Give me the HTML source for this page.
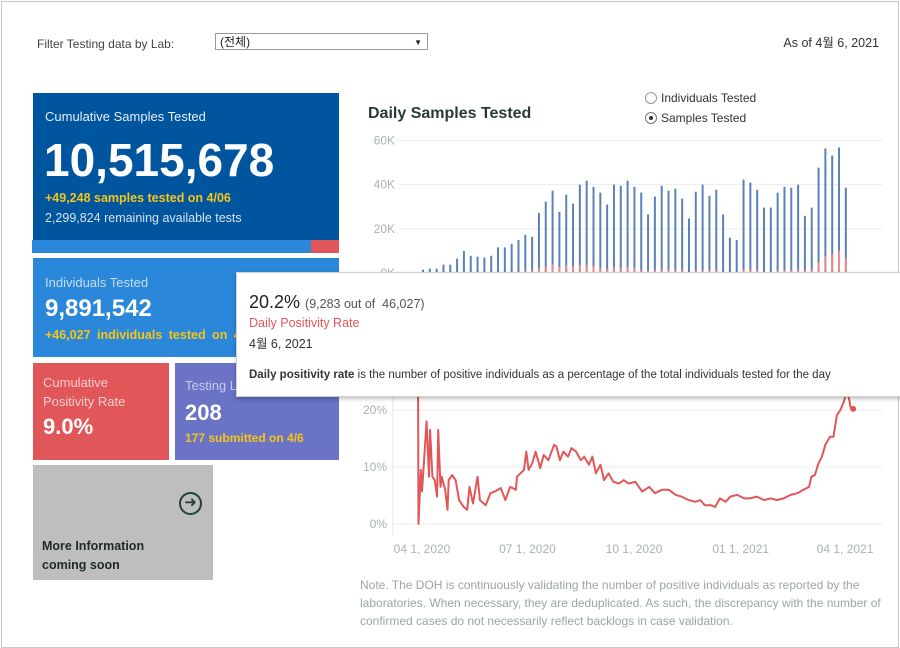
<!DOCTYPE html>
<html><head><meta charset="utf-8">
<style>
body{margin:0;width:900px;height:648px;overflow:hidden;background:#fff;font-family:"Liberation Sans","Noto Sans CJK KR",sans-serif;position:relative}
.abs{position:absolute}
.frame{left:1px;top:1px;width:896px;height:645px;border:1px solid #c8c8c8}
.card{position:absolute;color:#fff}
.t{position:absolute;white-space:nowrap}
</style></head><body>
<div class="abs frame"></div>
<div class="t" style="left:37px;top:37px;font-size:12px;color:#444">Filter Testing data by Lab:</div>
<div class="abs" style="left:215px;top:33px;height:17px;border:1px solid #999;font-size:12px;color:#222;line-height:17px;padding-left:4px;box-sizing:border-box;width:213px">(전체)<span style="position:absolute;right:5px;top:0;font-size:8px">▼</span></div>
<div class="t" style="right:21px;top:32px;font-size:12.5px;color:#333">As of 4월 6, 2021</div>

<div class="card" style="left:33px;top:93px;width:306px;height:148px;background:#00559f">
 <div class="t" style="left:12px;top:16px;font-size:13px;color:#e8eef6">Cumulative Samples Tested</div>
 <div class="t" style="left:11px;top:40px;font-size:46px;font-weight:bold">10,515,678</div>
 <div class="t" style="left:12px;top:98px;font-size:12.5px;font-weight:bold;color:#f5c518">+49,248 samples tested on 4/06</div>
 <div class="t" style="left:12px;top:118px;font-size:12.5px;color:#d8e2ee">2,299,824 remaining available tests</div>
</div>
<div class="abs" style="left:32px;top:240px;width:279px;height:13px;background:#2b87d9"></div>
<div class="abs" style="left:311px;top:240px;width:28px;height:13px;background:#e15759"></div>

<div class="card" style="left:33px;top:258px;width:306px;height:99px;background:#2b87d9">
 <div class="t" style="left:12px;top:17px;font-size:13px;color:#c7dcf2">Individuals Tested</div>
 <div class="t" style="left:12px;top:37px;font-size:24px;font-weight:bold">9,891,542</div>
 <div class="t" style="left:12px;top:70px;font-size:12.5px;font-weight:bold;color:#f5c518;word-spacing:3px">+46,027 individuals tested on 4/06</div>
</div>
<div class="card" style="left:33px;top:363px;width:136px;height:97px;background:#e15759">
 <div class="t" style="left:10px;top:10px;font-size:13px;line-height:19px;color:#f6cdcd;white-space:normal">Cumulative<br>Positivity Rate</div>
 <div class="t" style="left:10px;top:51px;font-size:22px;font-weight:bold">9.0%</div>
</div>
<div class="card" style="left:175px;top:363px;width:164px;height:97px;background:#6a73c6">
 <div class="t" style="left:10px;top:15px;font-size:13px;color:#c8cbec">Testing Labs</div>
 <div class="t" style="left:10px;top:37px;font-size:22px;font-weight:bold">208</div>
 <div class="t" style="left:10px;top:68px;font-size:12px;font-weight:bold;color:#f5c518">177 submitted on 4/6</div>
</div>
<div class="card" style="left:33px;top:465px;width:180px;height:115px;background:#bebebe;color:#223">
 <div class="abs" style="left:146px;top:27px;width:19px;height:19px;border:2px solid #22413a;border-radius:50%;font-size:15px;line-height:18px;text-align:center;color:#22413a">➜</div>
 <div class="t" style="left:9px;top:72px;font-size:12.5px;font-weight:bold;line-height:19px;color:#1f2a28">More Information<br>coming soon</div>
</div>

<div class="t" style="left:368px;top:105px;font-size:16px;font-weight:bold;color:#2a3a36">Daily Samples Tested</div>
<div class="abs" style="left:645px;top:92px;width:10px;height:10px;border:1px solid #999;border-radius:50%"></div>
<div class="t" style="left:661px;top:91px;font-size:12px;color:#333">Individuals Tested</div>
<div class="abs" style="left:645px;top:112px;width:10px;height:10px;border:1px solid #777;border-radius:50%"><div style="position:absolute;left:3px;top:3px;width:4px;height:4px;border-radius:50%;background:#333"></div></div>
<div class="t" style="left:661px;top:111px;font-size:12px;color:#333">Samples Tested</div>

<svg class="abs" style="left:0;top:0" width="900" height="648" id="charts">
<defs><clipPath id="lineclip"><rect x="380" y="280" width="510" height="260"/></clipPath></defs>
</svg>

<div class="abs" style="left:236px;top:272px;width:670px;height:123px;background:#fff;border:1px solid #d0d0d0;box-shadow:0 2px 4px rgba(0,0,0,0.25)">
 <div class="t" style="left:12px;top:19px;font-size:18px;color:#222">20.2% <span style="font-size:12.5px;color:#555">(9,283 out of &nbsp;46,027)</span></div>
 <div class="t" style="left:12px;top:43px;font-size:12.5px;color:#e15759">Daily Positivity Rate</div>
 <div class="t" style="left:12px;top:60px;font-size:12.5px;color:#333">4월 6, 2021</div>
 <div class="t" style="left:12px;top:96px;font-size:11.5px;color:#333"><b>Daily positivity rate</b> is the number of positive individuals as a percentage of the total individuals tested for the day</div>
</div>

<div class="t" style="left:360px;top:576px;font-size:12px;line-height:18px;color:#9aa7a3;white-space:normal;width:522px">Note. The DOH is continuously validating the number of positive individuals as reported by the laboratories. When necessary, they are deduplicated. As such, the discrepancy with the number of confirmed cases do not necessarily reflect backlogs in case validation.</div>

<script>
const barSamples=[1.5,2,2,3.8,3.8,6.5,10,7.8,7.4,7,7.8,11.6,11.6,13.2,15,17.3,16.4,27.2,32.3,37.3,27.7,35.5,31.4,40,41.8,39,36.4,31,40,39.5,41.8,39,36.4,26.5,34.6,39.5,37.3,38.2,33.7,24.7,36.8,40,35,37.7,26.5,16,15,42.3,40.9,37.7,29.6,29.6,36.4,39,38.6,40,25.9,29.6,47.7,56.4,53.2,56.8,38.6];
const barPositives=[0,0,0,0,0,0,0,0,0,0,0,0,0,0,0.3,1,1.2,2.1,3,3.9,2.7,3.6,3,3.6,3.6,3,2.3,1.8,2.7,2.3,2.7,2.3,1.5,1.2,1.3,1.5,1.4,1.4,1.2,0.5,1.2,1.2,1.2,1.3,0.5,0,0,1.4,1.4,1.4,0.5,0.5,1.2,1.3,1.3,1.5,1.2,1.6,4.8,7.5,8.6,10.2,6.6];
const barTicks=["0K","20K","40K","60K"];
const tickVals=[0,20,40,60];
const lineDays=[-4,-3,-1,0,2,4,6,7,9,11,13,14,16,17,20,22,23,26,29,32,36,39,41,44,48,50,55,59,63,68,72,76,81,82,85,88,90,92,95,98,102,105,109,114,116,119,122,126,129,133,137,140,144,147,150,154,157,161,165,170,174,178,184,190,196,201,207,213,219,224,230,236,240,244,249,253,257,262,266,272,278,283,289,295,301,306,312,318,324,329,334,336,339,342,345,348,352,355,358,361,364,367,370,372];
const lineRates=[60,0,9.5,5.7,11.8,18,8.3,16.5,8.3,7.7,4.8,16.5,6.5,8.3,6,2.5,7.7,8.6,7.7,4.2,3,2.5,6.5,3.6,8.3,4.2,3.3,5.4,5.7,6.3,4.2,6.5,6,8.3,8.9,9.5,12.7,9.5,10.6,12.7,9.8,12.1,11.2,13.9,13.6,11.2,12.7,11.8,13.3,12.7,11.2,11.8,10.4,11.8,8.9,10.4,7.7,8.9,7.4,7.1,7.7,7.1,7.4,5.7,6.5,5.4,6,6,5.1,4.8,4.2,3.9,4.2,3.3,3.3,3,4.5,3.9,4.8,5.1,4.5,4.5,4.8,4.2,4.5,4.2,4.5,5.1,5.4,6,6.5,8.3,8.6,10.6,11.8,13.9,15.3,15.3,19.1,20,21.5,23.5,20.3,20.2];
const lineTicks=["0%","10%","20%"];
const lineTickVals=[0,10,20];
const xLabels=["04 1, 2020","07 1, 2020","10 1, 2020","01 1, 2021","04 1, 2021"];
const xLabelDays=[0,91,183,275,365];

const NS="http://www.w3.org/2000/svg";
const svg=document.getElementById('charts');
function mk(tag,attrs,parent){const e=document.createElementNS(NS,tag);for(const k in attrs)e.setAttribute(k,attrs[k]);(parent||svg).appendChild(e);return e;}
const by=v=>273-v*(132.5/60);
const bx=i=>423+i*6.82;
tickVals.forEach((v,i)=>{
 const g=mk('line',{x1:399,x2:882,y1:by(v),y2:by(v),stroke:'#ebebeb','stroke-width':1});
 
 
 const t=mk('text',{x:395,y:by(v)+4,'text-anchor':'end','font-size':12,fill:'#a9b3b0','font-family':'Liberation Sans, sans-serif'});
 t.textContent=barTicks[i];
 
 
});
const base=mk('line',{x1:360,x2:890,y1:274,y2:274,stroke:'#ccc','stroke-width':1});


barSamples.forEach((v,i)=>{
 const r=mk('rect',{x:bx(i)-1,y:by(v),width:2,height:by(0)-by(v),fill:'#5b82b8'});
 
 
 const p=barPositives[i];
 if(p>0){const q=mk('rect',{x:bx(i)-1,y:by(p),width:2,height:by(0)-by(p),fill:'#ef8a8c'});
 
 }
});
const ly=v=>524-v*5.7;
const lx=d=>422+d*1.159;
lineTickVals.forEach((v,i)=>{
 const g=mk('line',{x1:393,x2:882,y1:ly(v),y2:ly(v),stroke:'#ebebeb','stroke-width':1});
 
 
 const t=mk('text',{x:387,y:ly(v)+4,'text-anchor':'end','font-size':12,fill:'#a9b3b0','font-family':'Liberation Sans, sans-serif'});
 t.textContent=lineTicks[i];
 
 
});
const ax=mk('line',{x1:393,x2:393,y1:396,y2:535,stroke:'#e6e6e6','stroke-width':1});


xLabels.forEach((s,i)=>{
 const t=mk('text',{x:lx(xLabelDays[i]),y:553,'text-anchor':'middle','font-size':12,fill:'#a9b3b0','font-family':'Liberation Sans, sans-serif'});
 t.textContent=s;
 
 
});
const pts=lineDays.map((d,i)=>lx(d).toFixed(1)+','+ly(lineRates[i]).toFixed(1)).join(' ');
const pl=mk('polyline',{points:pts,fill:'none',stroke:'#e15759','stroke-width':2,'stroke-linejoin':'round','clip-path':'url(#lineclip)'});


const n=lineDays.length-1;
const dot=mk('circle',{cx:lx(lineDays[n]),cy:ly(lineRates[n]),r:3,fill:'#e15759'});


</script>
</body></html>
